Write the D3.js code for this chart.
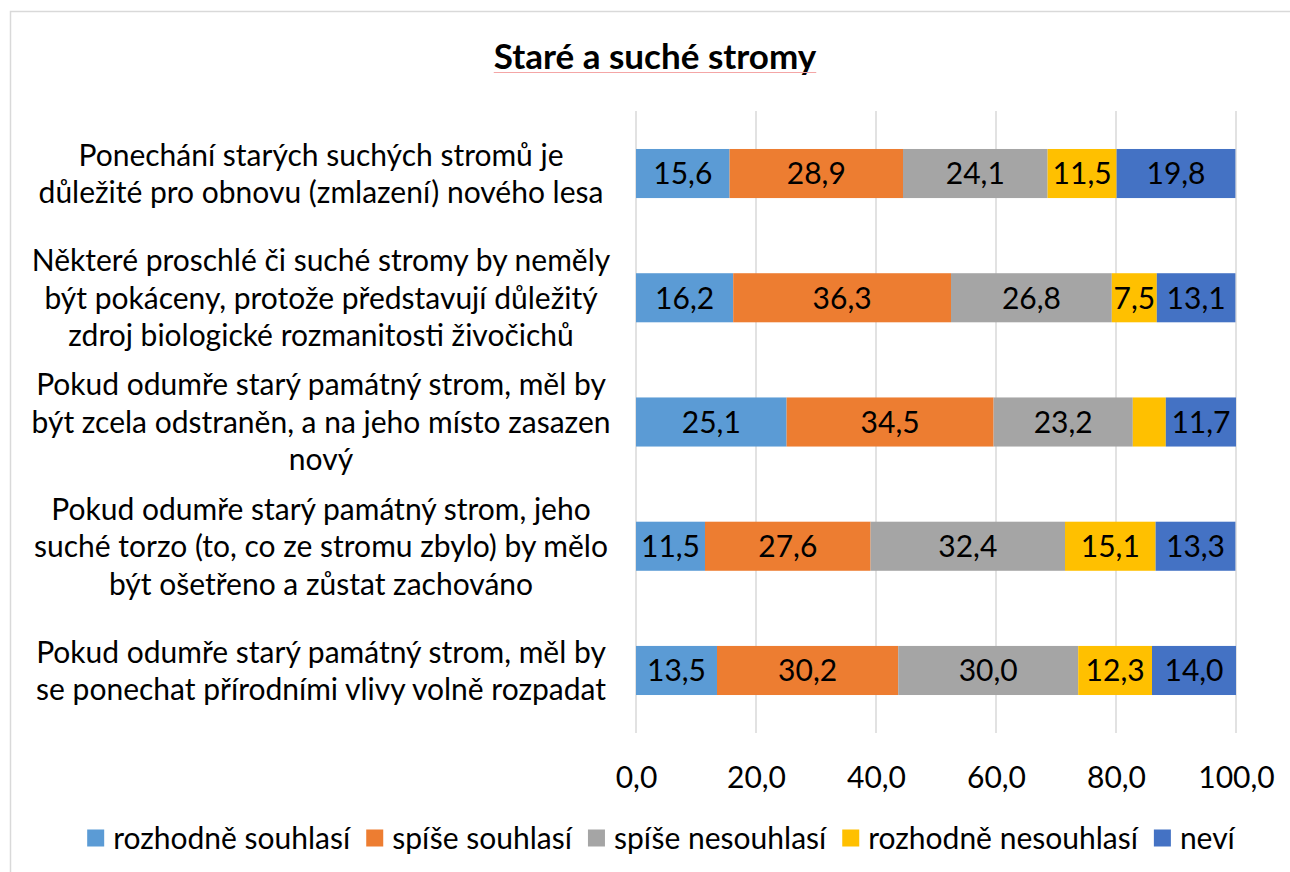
<!DOCTYPE html>
<html>
<head>
<meta charset="utf-8">
<script src="https://cdn.jsdelivr.net/npm/d3@7"></script>
<style>
  body { margin: 0; background: #fff; }
  text { font-family: Lato, "Open Sans", sans-serif; fill: #000; }
</style>
</head>
<body>
<svg width="1290" height="872"></svg>
<script>
var svg = d3.select('svg');
var width = +svg.attr('width');
var height = +svg.attr('height');

// data
var title = 'Staré a suché stromy';
var categories = [
  ['Ponechání starých suchých stromů je', 'důležité pro obnovu (zmlazení) nového lesa'],
  ['Některé proschlé či suché stromy by neměly', 'být pokáceny, protože představují důležitý', 'zdroj biologické rozmanitosti živočichů'],
  ['Pokud odumře starý památný strom, měl by', 'být zcela odstraněn, a na jeho místo zasazen', 'nový'],
  ['Pokud odumře starý památný strom, jeho', 'suché torzo (to, co ze stromu zbylo) by mělo', 'být ošetřeno a zůstat zachováno'],
  ['Pokud odumře starý památný strom, měl by', 'se ponechat přírodními vlivy volně rozpadat']
];
var seriesNames = ['rozhodně souhlasí', 'spíše souhlasí', 'spíše nesouhlasí', 'rozhodně nesouhlasí', 'neví'];
var seriesColors = ['#5B9BD5', '#ED7D31', '#A5A5A5', '#FFC000', '#4472C4'];
var rozhodneSouhlasi = [15.6, 16.2, 25.1, 11.5, 13.5];
var spiseSouhlasi = [28.9, 36.3, 34.5, 27.6, 30.2];
var spiseNesouhlasi = [24.1, 26.8, 23.2, 32.4, 30.0];
var rozhodneNesouhlasi = [11.5, 7.5, 5.5, 15.1, 12.3];
var nevi = [19.8, 13.1, 11.7, 13.3, 14.0];
var xTicks = [0, 20, 40, 60, 80, 100];

var seriesValues = [rozhodneSouhlasi, spiseSouhlasi, spiseNesouhlasi, rozhodneNesouhlasi, nevi];

var cz = d3.formatLocale({decimal: ',', thousands: ' ', grouping: [3], currency: ['', ' Kč']});
var fmt = cz.format('.1f');

var fontSize = 30;

// chart border
svg.append('rect')
  .attr('x', 10.5).attr('y', 11.5)
  .attr('width', width + 20).attr('height', height + 20)
  .attr('fill', 'none')
  .attr('stroke', '#D9D9D9')
  .attr('stroke-width', 1.5);

// title
var t = svg.append('text')
  .attr('x', 655).attr('y', 69)
  .attr('text-anchor', 'middle')
  .style('font-size', '35px')
  .style('font-weight', 'bold')
  .text(title);
var tw = t.node().getComputedTextLength();
svg.append('line')
  .attr('x1', 655 - tw / 2).attr('x2', 655 + tw / 2)
  .attr('y1', 72.5).attr('y2', 72.5)
  .attr('stroke', '#F4A6A6').attr('stroke-width', 1);

var xScale = d3.scaleLinear().domain([0, 100]).range([636, 1236]);
var yScale = d3.scaleBand()
  .domain(d3.range(categories.length))
  .range([111.4, 732.6])
  .paddingInner(0.605)
  .paddingOuter(0.3025);

// gridlines
svg.selectAll('.grid')
  .data(xTicks)
  .enter()
  .append('line')
  .attr('class', 'grid')
  .attr('x1', function(d) { return xScale(d); })
  .attr('x2', function(d) { return xScale(d); })
  .attr('y1', 111)
  .attr('y2', 733)
  .attr('stroke', '#D9D9D9')
  .attr('stroke-width', 1.5);

// x axis labels
var xAxis = d3.axisBottom(xScale).tickValues(xTicks).tickFormat(fmt).tickSize(0).tickPadding(0);
var gx = svg.append('g')
  .attr('transform', 'translate(0,777)')
  .call(xAxis);
gx.select('.domain').remove();
gx.selectAll('text')
  .attr('y', 0)
  .attr('dy', '0.36em')
  .style('font-family', 'Lato, "Open Sans", sans-serif')
  .style('font-size', fontSize + 'px')
  .attr('fill', '#000');

// stacked bars
var stackData = categories.map(function(c, i) {
  var row = {idx: i};
  seriesNames.forEach(function(s, j) { row[s] = seriesValues[j][i]; });
  return row;
});
var stack = d3.stack().keys(seriesNames)(stackData);

var layers = svg.selectAll('.layer')
  .data(stack)
  .enter()
  .append('g')
  .attr('class', 'layer')
  .attr('fill', function(d, i) { return seriesColors[i]; });

layers.selectAll('rect')
  .data(function(d) { return d; })
  .enter()
  .append('rect')
  .attr('x', function(d) { return xScale(d[0]); })
  .attr('y', function(d) { return yScale(d.data.idx); })
  .attr('width', function(d) { return xScale(d[1]) - xScale(d[0]); })
  .attr('height', yScale.bandwidth());

layers.selectAll('text')
  .data(function(d) { return d; })
  .enter()
  .filter(function(d) { return xScale(d[1]) - xScale(d[0]) > 40; })
  .append('text')
  .attr('x', function(d) { return (xScale(d[0]) + xScale(d[1])) / 2; })
  .attr('y', function(d) { return yScale(d.data.idx) + yScale.bandwidth() / 2; })
  .attr('dy', '0.36em')
  .attr('text-anchor', 'middle')
  .style('font-size', fontSize + 'px')
  .text(function(d) { return fmt(d[1] - d[0]); });

// category labels
var lineH = 37.5;
var labels = svg.selectAll('.cat')
  .data(categories)
  .enter()
  .append('text')
  .attr('class', 'cat')
  .attr('text-anchor', 'middle')
  .style('font-size', fontSize + 'px');
labels.each(function(lines, i) {
  var cy = yScale(i) + yScale.bandwidth() / 2;
  var top = cy - (lines.length - 1) * lineH / 2;
  d3.select(this).selectAll('tspan')
    .data(lines)
    .enter()
    .append('tspan')
    .attr('x', 321)
    .attr('y', function(d, k) { return top + k * lineH; })
    .attr('dy', '0.36em')
    .text(function(d) { return d; });
});

// legend
var legend = svg.append('g');
var sw = 17, gapText = 9, gapItem = 16;
var items = legend.selectAll('.item')
  .data(seriesNames)
  .enter()
  .append('g')
  .attr('class', 'item');
items.append('rect')
  .attr('width', sw).attr('height', sw)
  .attr('y', -sw / 2)
  .attr('fill', function(d, i) { return seriesColors[i]; });
items.append('text')
  .attr('x', sw + gapText)
  .attr('dy', '0.36em')
  .style('font-size', fontSize + 'px')
  .text(function(d) { return d; });
var pos = 0;
items.each(function() {
  var w = sw + gapText + d3.select(this).select('text').node().getComputedTextLength();
  d3.select(this).attr('transform', 'translate(' + pos + ',0)');
  pos += w + gapItem;
});
var total = pos - gapItem;
legend.attr('transform', 'translate(' + (661 - total / 2) + ',838)');
</script>
</body>
</html>
